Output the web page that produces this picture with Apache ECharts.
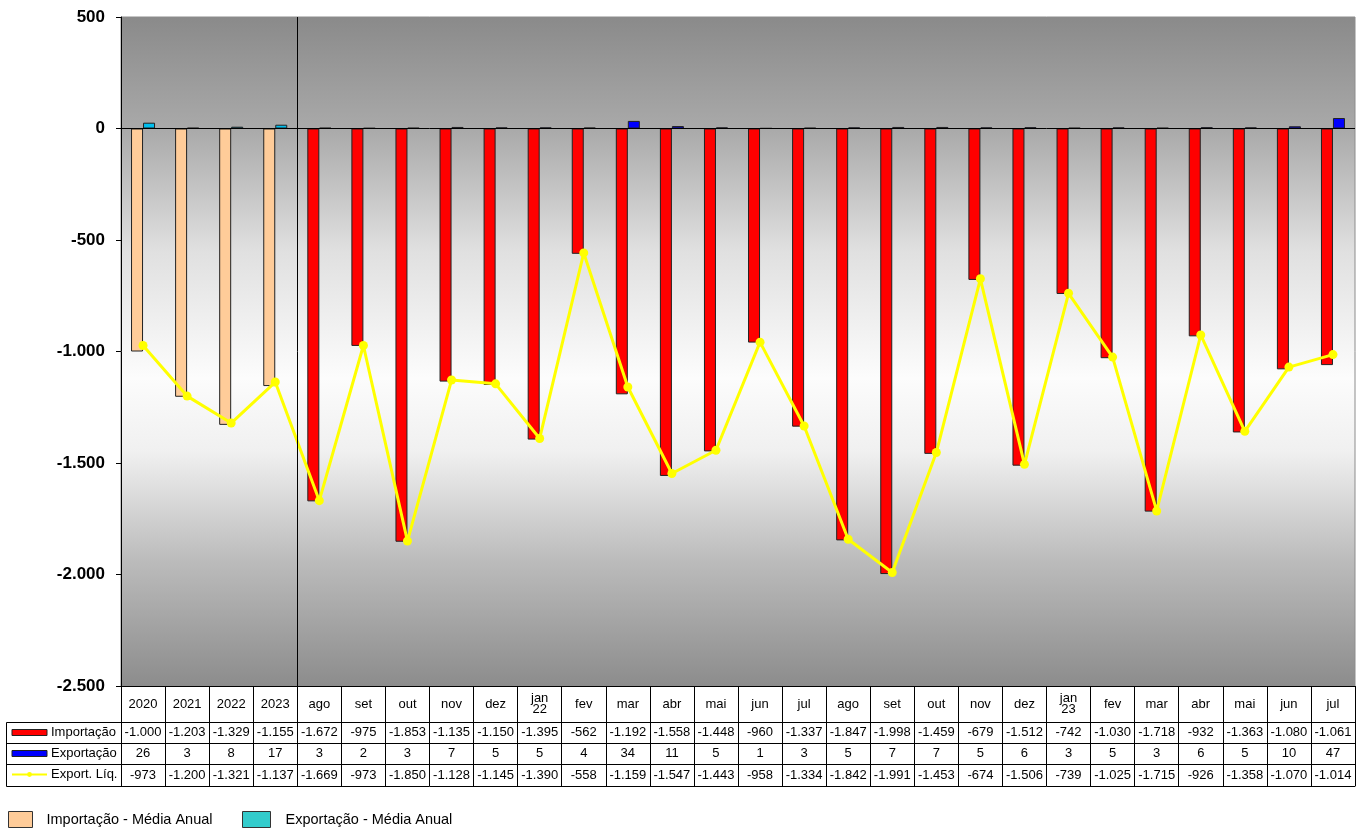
<!DOCTYPE html>
<html lang="pt">
<head>
<meta charset="utf-8">
<title>Importação e Exportação</title>
<script src="https://cdn.jsdelivr.net/npm/echarts@6/dist/echarts.min.js"></script>
<style>
  html, body { margin: 0; padding: 0; background: #ffffff; }
  #chart { width: 1363px; height: 828px; }
</style>
</head>
<body>
<div id="chart"></div>
<script>
// Categories: four annual averages, then monthly values
const categories = ['2020', '2021', '2022', '2023',
  'ago', 'set', 'out', 'nov', 'dez',
  'jan\n22', 'fev', 'mar', 'abr', 'mai', 'jun', 'jul', 'ago', 'set', 'out', 'nov', 'dez',
  'jan\n23', 'fev', 'mar', 'abr', 'mai', 'jun', 'jul'];

// Annual averages
const importAnnual = [-1000, -1203, -1329, -1155];
const exportAnnual = [26, 3, 8, 17];

// Monthly values (ago/21 .. jul/23)
const importMonthly = [-1672, -975, -1853, -1135, -1150,
  -1395, -562, -1192, -1558, -1448, -960, -1337, -1847, -1998, -1459, -679, -1512,
  -742, -1030, -1718, -932, -1363, -1080, -1061];
const exportMonthly = [3, 2, 3, 7, 5,
  5, 4, 34, 11, 5, 1, 3, 5, 7, 7, 5, 6,
  3, 5, 3, 6, 5, 10, 47];

// Net exports for every category
const netExports = [-973, -1200, -1321, -1137,
  -1669, -973, -1850, -1128, -1145,
  -1390, -558, -1159, -1547, -1443, -958, -1334, -1842, -1991, -1453, -674, -1506,
  -739, -1025, -1715, -926, -1358, -1070, -1014];

// Value axis ticks
const yMin = -2500, yMax = 500, yStep = 500;

const FONT = '"Liberation Sans", Arial, sans-serif';

// Portuguese number style: "." as thousands separator
function fmt(v) {
  const s = Math.abs(v).toString().replace(/\B(?=(\d{3})+(?!\d))/g, '.');
  return (v < 0 ? '-' : '') + s;
}

const nA = importAnnual.length;
const nM = importMonthly.length;
const blanksM = new Array(nM).fill('-');
const blanksA = new Array(nA).fill('-');

const importAnnualData = importAnnual.concat(blanksM);
const exportAnnualData = exportAnnual.concat(blanksM);
const importMonthlyData = blanksA.concat(importMonthly);
const exportMonthlyData = blanksA.concat(exportMonthly);

// Table rows under the plot
const importRow = importAnnual.concat(importMonthly);
const exportRow = exportAnnual.concat(exportMonthly);

const BLACK = '#000000';
const BAR_BORDER = '#222222';

// Vertical offsets of the table's horizontal rules below the plot
const ROW_OFFSETS = [36, 57, 78, 100];
const LEGEND_COL_LEFT = 6;

// One table row = a category axis shifted below the plot
function tableAxis(offset, tickLen, rowValues, margin) {
  return {
    type: 'category',
    data: categories,
    position: 'bottom',
    offset: offset,
    gridIndex: 0,
    axisLine: { show: true, onZero: false, lineStyle: { color: BLACK, width: 1 } },
    axisTick: { show: !!tickLen, length: tickLen || 0, interval: 0, lineStyle: { color: BLACK, width: 1 } },
    axisLabel: {
      show: !!rowValues,
      interval: 0,
      margin: margin || 0,
      verticalAlign: 'middle',
      fontSize: 13,
      fontFamily: FONT,
      color: BLACK,
      formatter: (v, i) => rowValues ? fmt(rowValues[i]) : ''
    },
    splitLine: { show: false }
  };
}

const chart = echarts.init(document.getElementById('chart'), null, { renderer: 'canvas' });

const option = {
  animation: false,
  backgroundColor: '#ffffff',
  textStyle: { fontFamily: FONT },
  grid: {
    left: 121, right: 8, top: 17, bottom: 142,
    show: true,
    borderColor: '#8c8c8c',
    borderWidth: 1,
    backgroundColor: new echarts.graphic.LinearGradient(0, 0, 0, 1, [
      { offset: 0.00, color: '#8a8a8a' },
      { offset: 0.167, color: '#a9a9a9' },
      { offset: 0.35, color: '#e0e0e0' },
      { offset: 0.54, color: '#fcfcfc' },
      { offset: 0.65, color: '#f0f0f0' },
      { offset: 0.81, color: '#bcbcbc' },
      { offset: 1.00, color: '#8c8c8c' }
    ])
  },
  legend: [
    {
      orient: 'vertical',
      left: LEGEND_COL_LEFT, top: 717,
      itemWidth: 35, itemHeight: 6, itemGap: 0,
      selectedMode: false,
      textStyle: { fontSize: 13, lineHeight: 21, fontFamily: FONT, color: BLACK, padding: [0, 0, 0, -1] },
      data: [
        { name: 'Importação', icon: 'rect', itemStyle: { borderColor: BAR_BORDER, borderWidth: 1 } },
        { name: 'Exportação', icon: 'rect', itemStyle: { borderColor: BAR_BORDER, borderWidth: 1 } },
        { name: 'Export. Líq.' }
      ]
    },
    {
      left: 3, top: 806,
      itemWidth: 24, itemHeight: 16,
      selectedMode: false,
      textStyle: { fontSize: 14.5, fontFamily: FONT, color: BLACK, padding: [10, 0, 0, 9] },
      data: [{ name: 'Importação - Média Anual', icon: 'rect',
        itemStyle: { color: '#FFCC99', borderColor: '#333333', borderWidth: 1 } }]
    },
    {
      left: 237, top: 806,
      itemWidth: 28, itemHeight: 16,
      selectedMode: false,
      textStyle: { fontSize: 14.5, fontFamily: FONT, color: BLACK, padding: [10, 0, 0, 10] },
      data: [{ name: 'Exportação - Média Anual', icon: 'rect',
        itemStyle: { color: '#33CCCC', borderColor: '#333333', borderWidth: 1 } }]
    }
  ],
  xAxis: [
    {
      type: 'category',
      data: categories,
      position: 'bottom',
      axisLine: { show: true, onZero: false, lineStyle: { color: BLACK, width: 1 } },
      axisTick: { show: true, length: ROW_OFFSETS[0], interval: 0, lineStyle: { color: BLACK, width: 1 } },
      axisLabel: {
        interval: 0, margin: 18, verticalAlign: 'middle',
        fontSize: 13, lineHeight: 11, fontFamily: FONT, color: BLACK
      },
      splitLine: { show: false }
    },
    tableAxis(ROW_OFFSETS[0], ROW_OFFSETS[1] - ROW_OFFSETS[0], importRow, 10.5),
    tableAxis(ROW_OFFSETS[1], ROW_OFFSETS[2] - ROW_OFFSETS[1], exportRow, 10.5),
    tableAxis(ROW_OFFSETS[2], ROW_OFFSETS[3] - ROW_OFFSETS[2], netExports, 11),
    tableAxis(ROW_OFFSETS[3], 0, null, 0)
  ],
  yAxis: {
    type: 'value',
    min: yMin, max: yMax, interval: yStep,
    axisLine: { show: true, lineStyle: { color: BLACK, width: 1 } },
    axisTick: { show: true, length: 5, lineStyle: { color: BLACK, width: 1 } },
    axisLabel: {
      margin: 16, fontSize: 17, fontWeight: 'bold', fontFamily: FONT, color: BLACK,
      formatter: (v) => fmt(v)
    },
    splitLine: { show: false }
  },
  series: [
    {
      name: 'Importação - Média Anual', type: 'bar', stack: 'imp',
      data: importAnnualData, barWidth: 12, barGap: '0%',
      itemStyle: { color: '#FFCC99', borderColor: BAR_BORDER, borderWidth: 1 }
    },
    {
      name: 'Importação', type: 'bar', stack: 'imp',
      data: importMonthlyData, barWidth: 12, barGap: '0%',
      itemStyle: { color: '#FF0000', borderColor: BAR_BORDER, borderWidth: 1 },
      markLine: {
        silent: true, symbol: ['none', 'none'], label: { show: false },
        lineStyle: { color: BLACK, type: 'solid', width: 1 },
        data: [{ yAxis: 0 }]
      }
    },
    {
      name: 'Exportação - Média Anual', type: 'bar', stack: 'exp',
      data: exportAnnualData, barWidth: 12, barGap: '0%',
      itemStyle: { color: '#00BFEF', borderColor: BAR_BORDER, borderWidth: 1 }
    },
    {
      name: 'Exportação', type: 'bar', stack: 'exp',
      data: exportMonthlyData, barWidth: 12, barGap: '0%',
      itemStyle: { color: '#0000FF', borderColor: BAR_BORDER, borderWidth: 1 }
    },
    {
      name: 'Export. Líq.', type: 'line', data: netExports, z: 5,
      symbol: 'circle', symbolSize: 9,
      lineStyle: { color: '#FFFF00', width: 3 },
      itemStyle: { color: '#FFFF00' }
    }
  ]
};

chart.setOption(option);

// Separator between annual averages and monthly values, and the frame of
// the table's legend column, placed from the axes' own pixel positions.
(function addRules() {
  const crisp = (v) => Math.round(v) + 0.5;
  const xPrev = chart.convertToPixel({ xAxisIndex: 0 }, nA - 1);
  const xNext = chart.convertToPixel({ xAxisIndex: 0 }, nA);
  const xSep = crisp((xPrev + xNext) / 2);
  const yTop = chart.convertToPixel({ yAxisIndex: 0 }, yMax);
  const yBot = chart.convertToPixel({ yAxisIndex: 0 }, yMin);
  const xLeftPlot = chart.convertToPixel({ xAxisIndex: 0 }, 0) -
    (xNext - xPrev) / 2;

  const line = (x1, y1, x2, y2) => ({
    type: 'line', silent: true, z: 10,
    shape: { x1: x1, y1: y1, x2: x2, y2: y2 },
    style: { stroke: BLACK, lineWidth: 1 }
  });

  const els = [line(xSep, yTop, xSep, yBot)];
  const xl = LEGEND_COL_LEFT + 0.5;
  const xr = crisp(xLeftPlot);
  const rowYs = ROW_OFFSETS.map((o) => crisp(yBot + o));
  rowYs.forEach((y) => els.push(line(xl, y, xr, y)));
  els.push(line(xl, rowYs[0], xl, rowYs[rowYs.length - 1]));
  els.push(line(xr, rowYs[0], xr, rowYs[rowYs.length - 1]));

  chart.setOption({ graphic: els });
})();
</script>
</body>
</html>
